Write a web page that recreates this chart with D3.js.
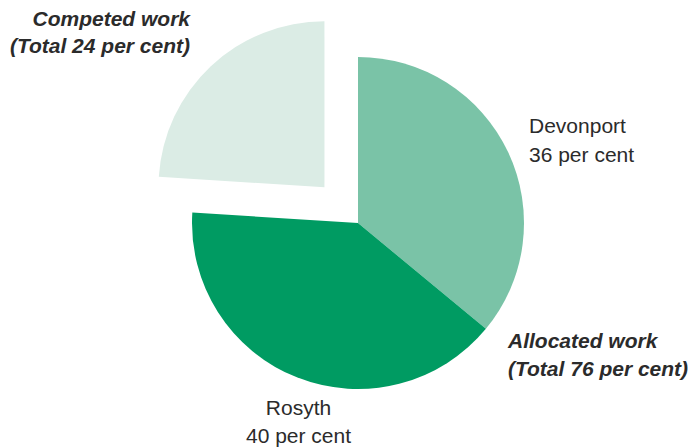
<!DOCTYPE html>
<html>
<head>
<meta charset="utf-8">
<script src="https://cdn.jsdelivr.net/npm/d3@7/dist/d3.min.js"></script>
<style>
  html, body { margin: 0; padding: 0; background: #fff; }
  svg { display: block; }
  text { font-family: "Liberation Sans", Arial, Helvetica, sans-serif; fill: #2b2b2b; }
</style>
</head>
<body>
<svg id="chart" width="696" height="447"></svg>
<script>
// Shares of work, in per cent
const categories = ["Devonport", "Rosyth", "Competed work"];
const values = [36, 40, 24];
const colors = ["#7ac3a7", "#009b62", "#dbece5"];
const exploded = [false, false, true];

const width = 696, height = 447;
const cx = 358, cy = 223, radius = 166, explodeBy = 49;

const svg = d3.select("#chart");

const pie = d3.pie().sort(null).value(d => d.value).startAngle(0).endAngle(2 * Math.PI);
const arc = d3.arc().innerRadius(0).outerRadius(radius);

const data = categories.map((c, i) => ({ name: c, value: values[i], color: colors[i], out: exploded[i] }));
const arcs = pie(data);

const g = svg.append("g").attr("transform", `translate(${cx},${cy})`);

g.selectAll("path")
  .data(arcs)
  .join("path")
  .attr("d", arc)
  .attr("fill", d => d.data.color)
  .attr("transform", d => {
    if (!d.data.out) return null;
    const mid = (d.startAngle + d.endAngle) / 2;
    return `translate(${Math.sin(mid) * explodeBy},${-Math.cos(mid) * explodeBy})`;
  });

// Labels
function label(lines, x, y, anchor, bold, lh) {
  const t = svg.append("text")
    .attr("text-anchor", anchor)
    .style("font-size", "21px")
    .style("font-weight", bold ? "bold" : "normal")
    .style("font-style", bold ? "italic" : "normal");
  lines.forEach((s, i) => t.append("tspan").attr("x", x).attr("y", y + i * lh).text(s));
}

label(["Competed work", `(Total ${values[2]} per cent)`], 190, 26, "end", true, 27);
label([categories[0], `${values[0]} per cent`], 529, 133, "start", false, 29);
label(["Allocated work", `(Total ${values[0] + values[1]} per cent)`], 508, 348, "start", true, 28);
label([categories[1], `${values[1]} per cent`], 298.5, 415, "middle", false, 28);
</script>
</body>
</html>
